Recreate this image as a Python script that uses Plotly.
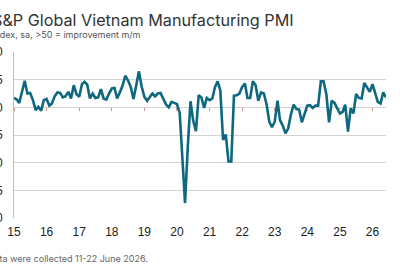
import plotly.graph_objects as go
import pandas as pd

# Monthly PMI, Jan 2015 - Jun 2026
pmi_2015 = [51.7, 51.4, 50.8, 52.8, 54.8, 52.5, 52.6, 51.3, 49.5, 50.1, 49.4, 51.3]
pmi_2016 = [51.5, 50.3, 50.7, 52.0, 52.7, 52.6, 51.8, 52.0, 52.8, 51.6, 54.0, 52.4]
pmi_2017 = [51.9, 54.2, 54.6, 54.1, 51.6, 52.5, 51.7, 51.8, 53.3, 51.6, 51.4, 52.5]
pmi_2018 = [53.4, 53.5, 51.6, 52.7, 53.9, 55.7, 54.9, 53.7, 51.5, 53.9, 56.5, 53.8]
pmi_2019 = [51.9, 51.2, 51.9, 52.5, 52.0, 52.5, 52.6, 51.4, 50.5, 50.0, 51.0, 50.8]
pmi_2020 = [50.6, 49.0, 41.9, 32.7, 42.7, 51.1, 47.6, 45.7, 52.2, 51.8, 49.9, 51.7]
pmi_2021 = [51.3, 51.6, 53.6, 54.7, 53.1, 44.1, 45.1, 40.2, 40.2, 52.1, 52.2, 52.5]
pmi_2022 = [53.7, 54.3, 51.7, 51.7, 54.7, 54.0, 51.2, 52.7, 52.5, 50.6, 47.4, 46.4]
pmi_2023 = [47.4, 51.2, 47.7, 46.7, 45.3, 46.2, 48.7, 50.5, 49.7, 49.6, 47.3, 48.9]
pmi_2024 = [50.3, 50.4, 49.9, 50.3, 50.3, 54.7, 54.7, 52.4, 47.3, 51.2, 50.8, 49.8]
pmi_2025 = [48.9, 49.2, 50.5, 45.6, 49.8, 48.9, 52.4, 51.7, 51.6, 54.4, 53.6, 52.8]
pmi_2026 = [54.2, 52.5, 51.0, 50.7, 52.7, 51.8]

values = (pmi_2015 + pmi_2016 + pmi_2017 + pmi_2018 + pmi_2019 + pmi_2020 +
          pmi_2021 + pmi_2022 + pmi_2023 + pmi_2024 + pmi_2025 + pmi_2026)
dates = pd.date_range("2015-01-01", periods=len(values), freq="MS")

year_ticks = [f"{y}-01-01" for y in range(2015, 2027)]
year_labels = ["15", "16", "17", "18", "19", "20", "21", "22", "23", "24", "25", "26"]
y_ticks = [30, 35, 40, 45, 50, 55, 60]

title = "S&P Global Vietnam Manufacturing PMI"
subtitle = "Index, sa, >50 = improvement m/m"
footnote = "Data were collected 11-22 June 2026."

PLOT_W = 372.0
PLOT_H = 166.0

fig = go.Figure()
fig.add_trace(go.Scatter(x=dates, y=values, mode="lines",
                         line=dict(color="#0d6880", width=2.6), hoverinfo="skip"))
# invisible trace on overlay axis to show tick marks at the 50 line
fig.add_trace(go.Scatter(x=dates, y=values, xaxis="x2", mode="lines",
                         line=dict(width=0), opacity=0, hoverinfo="skip"))

fig.update_layout(
    width=400, height=266,
    margin=dict(l=14, r=14, t=52, b=48, autoexpand=False),
    paper_bgcolor="white", plot_bgcolor="white",
    showlegend=False,
    font=dict(family="Liberation Sans, Arial, sans-serif", color="#222"),
    xaxis=dict(
        range=["2015-01-01", "2026-06-01"], automargin=False,
        tickvals=year_ticks, ticktext=year_labels,
        showgrid=False, zeroline=False, showline=False,
        ticks="outside", ticklen=3, tickcolor="rgba(0,0,0,0)",
        tickfont=dict(size=12, color="#222"),
    ),
    xaxis2=dict(
        overlaying="x", anchor="free", position=(50 - 30) / (60 - 30),
        range=["2015-01-01", "2026-06-01"], automargin=False,
        tickvals=year_ticks, showticklabels=False,
        ticks="outside", ticklen=3, tickcolor="#c89a8a", tickwidth=1,
        showgrid=False, zeroline=False, showline=False, side="bottom",
    ),
    yaxis=dict(
        range=[30, 60], tickvals=y_ticks, automargin=False,
        showgrid=True, gridcolor="#d4d4d4", gridwidth=1,
        zeroline=False, showline=True, linecolor="#bdbdbd", linewidth=1,
        ticks="outside", ticklen=8, tickcolor="rgba(0,0,0,0)",
        tickfont=dict(size=12, color="#222"),
    ),
    annotations=[
        dict(text=title, xref="paper", yref="paper", x=(-10 - 14) / PLOT_W, y=(218 - 20) / PLOT_H,
             xanchor="left", yanchor="middle", showarrow=False,
             font=dict(family="Inter, Roboto, sans-serif", size=16.2, color="#333")),
        dict(text=subtitle, xref="paper", yref="paper", x=(-10 - 14) / PLOT_W, y=(218 - 34) / PLOT_H,
             xanchor="left", yanchor="middle", showarrow=False,
             font=dict(family="Inter, Roboto, sans-serif", size=9, color="#555")),
        dict(text=footnote, xref="paper", yref="paper", x=(-14 - 14) / PLOT_W, y=(218 - 258) / PLOT_H,
             xanchor="left", yanchor="middle", showarrow=False,
             font=dict(family="Inter, Roboto, sans-serif", size=9, color="#666")),
    ],
)

fig.write_html("out.html")
